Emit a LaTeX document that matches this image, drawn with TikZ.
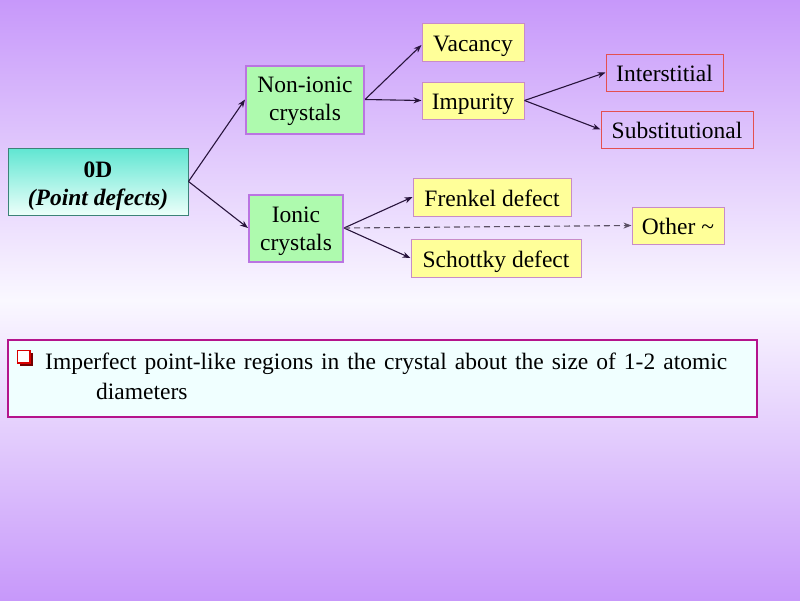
\documentclass[tikz,border=0pt]{standalone}
\usepackage{fontspec}
\setmainfont{Liberation Serif}
\usetikzlibrary{arrows.meta}
\definecolor{bgtop}{RGB}{199,152,250}
\definecolor{bgmid}{RGB}{250,248,255}
\definecolor{tealtop}{RGB}{96,230,210}
\definecolor{tealbot}{RGB}{236,255,250}
\definecolor{tealborder}{RGB}{60,130,120}
\definecolor{greenfill}{RGB}{174,250,174}
\definecolor{purpborder}{RGB}{186,116,226}
\definecolor{yellowfill}{RGB}{255,255,153}
\definecolor{yellowborder}{RGB}{200,140,200}
\definecolor{redborder}{RGB}{228,80,80}
\definecolor{magborder}{RGB}{180,20,140}
\definecolor{boxfill}{RGB}{240,255,255}
\definecolor{arrowcol}{RGB}{40,20,60}
\definecolor{dashcol}{RGB}{90,80,100}
\newcommand\twolines[3]{\raisebox{-#1}[\height][\depth]{\begin{tabular}{@{}c@{}}#2\\#3\end{tabular}}}
\tikzset{
  lbl/.style={font=\fontsize{23.5}{28.2}\selectfont, align=center, inner sep=0pt, rectangle},
  one/.style={text height=20pt, text depth=2pt},
  greenbox/.style={lbl, draw=purpborder, line width=2pt, fill=greenfill},
  yellowbox/.style={lbl, one, draw=yellowborder, line width=1pt, fill=yellowfill},
  redbox/.style={lbl, one, draw=redborder, line width=1pt},
  conn/.style={draw=arrowcol, line width=1.1pt, -{Stealth[length=8pt,width=6pt]}},
  dconn/.style={draw=dashcol, line width=1.1pt, dash pattern=on 6pt off 4pt, -{Stealth[length=8pt,width=6pt]}}
}
\begin{document}
\begin{tikzpicture}[x=1pt,y=-1pt]
\useasboundingbox (0,0) rectangle (800,600);
\shade[top color=bgtop, bottom color=bgtop, middle color=bgmid] (0,0) rectangle (800,600);

\node[lbl, draw=tealborder, line width=1pt, top color=tealtop, bottom color=tealbot,
      minimum width=180pt, minimum height=67pt] (zd) at (98,181.5)
      {\twolines{4pt}{\textbf{0D}}{\textbf{\textit{(Point defects)}}}};

\node[greenbox, minimum width=118pt, minimum height=68pt] (nonionic) at (305,99.5) {\twolines{1pt}{Non-ionic}{crystals}};
\node[greenbox, minimum width=94pt, minimum height=67pt] (ionic) at (296,228) {\twolines{3pt}{Ionic}{crystals}};

\node[yellowbox, minimum width=102pt, minimum height=38pt] (vac) at (473,42) {Vacancy};
\node[yellowbox, minimum width=102pt, minimum height=37pt] (imp) at (473,100.5) {Impurity};
\node[yellowbox, minimum width=158pt, minimum height=38pt] (fren) at (492,197) {Frenkel defect};
\node[yellowbox, minimum width=170pt, minimum height=38pt] (schot) at (496,258) {Schottky defect};
\node[yellowbox, minimum width=92pt, minimum height=37pt] (other) at (678,225.5) {Other \textasciitilde};

\node[redbox, minimum width=117pt, minimum height=37pt] (inter) at (664.5,72.5) {Interstitial};
\node[redbox, minimum width=152pt, minimum height=37pt] (subst) at (677,129.5) {Substitutional};

\draw[conn] (zd.east) -- (nonionic.west);
\draw[conn] (zd.east) -- (ionic.west);
\draw[conn] (nonionic.east) -- ([yshift=-3pt]vac.west);
\draw[conn] (nonionic.east) -- (imp.west);
\draw[conn] (imp.east) -- (inter.west);
\draw[conn] (imp.east) -- (subst.west);
\draw[conn] (ionic.east) -- (fren.west);
\draw[conn] (ionic.east) -- (schot.west);
\draw[dconn] (ionic.east) -- (other.west);

\node[draw=magborder, line width=2.5pt, fill=boxfill, minimum width=749pt, minimum height=77pt, inner sep=0pt] (note) at (382.5,378.5) {};
\fill[red!45!black] (19.5,352.5) rectangle (33,366);
\draw[draw=red!85!black, fill=white, line width=1.4pt] (17.5,350.5) rectangle (30,363);
\node[anchor=base west, inner sep=0pt, font=\fontsize{23.5}{28}\selectfont] (l1) at (45,369)
  {\makebox[682pt][s]{Imperfect point-like regions in the crystal about the size of 1-2 atomic}};
\node[anchor=base west, inner sep=0pt, font=\fontsize{23.5}{28}\selectfont] (l2) at (96,399.5) {diameters};
\end{tikzpicture}
\end{document}
